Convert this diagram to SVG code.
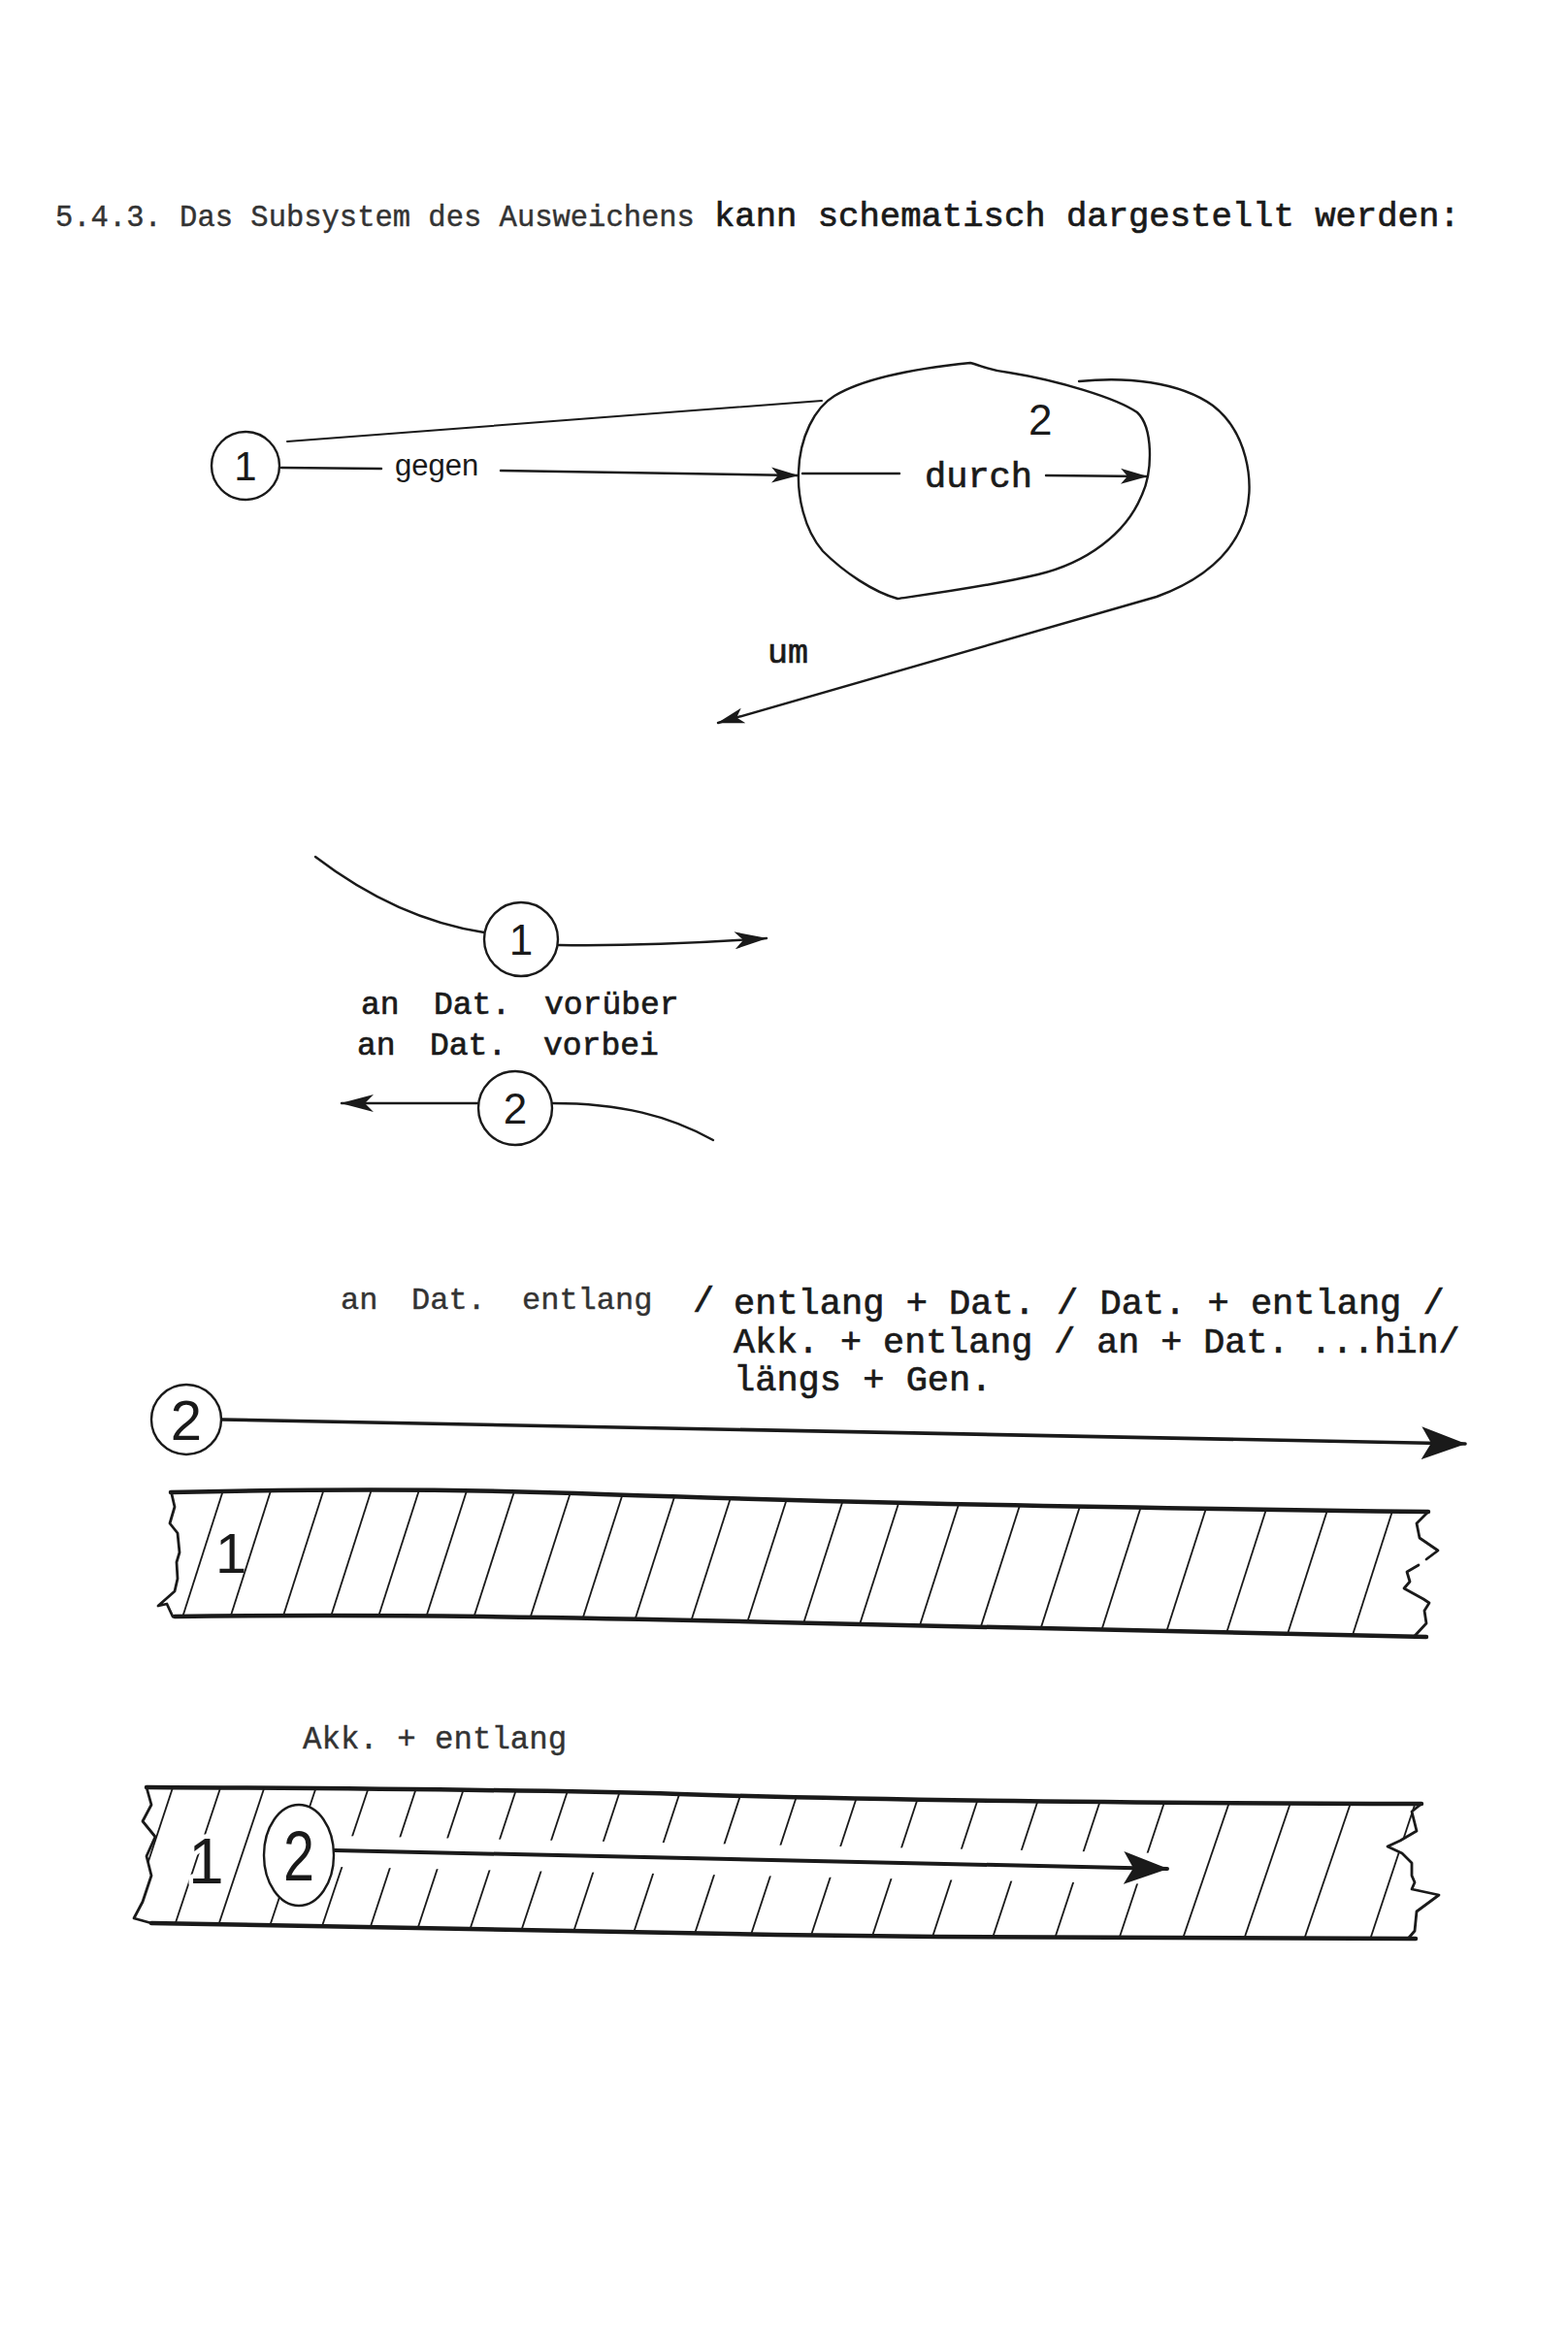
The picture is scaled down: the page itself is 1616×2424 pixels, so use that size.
<svg xmlns="http://www.w3.org/2000/svg" width="1616" height="2424" viewBox="0 0 1616 2424">
<style>
.tw{font-family:"Liberation Mono","Courier New",monospace;fill:#1a1a1a;stroke:#1a1a1a;stroke-width:0.7}
.lt{fill:#333;stroke:#333;stroke-width:0.4}
.hand{font-family:"Liberation Sans",Arial,sans-serif;fill:#1a1a1a}
.ln{fill:none;stroke:#1a1a1a;stroke-width:2.4;stroke-linecap:round;stroke-linejoin:round}
.thin{fill:none;stroke:#1a1a1a;stroke-width:2;stroke-linecap:round}
.thick{fill:none;stroke:#1a1a1a;stroke-width:4.5;stroke-linecap:round;stroke-linejoin:round}
.edge{fill:none;stroke:#1a1a1a;stroke-width:2.8;stroke-linejoin:round;stroke-linecap:round}
.hatch line{stroke:#1a1a1a;stroke-width:1.8}
.node{fill:#fff;stroke:#1a1a1a;stroke-width:2.4}
.halo{paint-order:stroke;stroke:#fff;stroke-width:9;stroke-linejoin:round}
</style>
<defs>
<marker id="ahS" viewBox="0 0 28 18" refX="27" refY="9" markerWidth="28" markerHeight="18" markerUnits="userSpaceOnUse" orient="auto"><path d="M0,1 L28,9 L0,17 L7,9 Z" fill="#1a1a1a"/></marker>
<marker id="ahO" viewBox="0 0 34 18" refX="33" refY="9" markerWidth="34" markerHeight="18" markerUnits="userSpaceOnUse" orient="auto"><path d="M0,0 L34,9 L0,18 L9,9 Z" fill="#1a1a1a"/></marker>
<marker id="ahB" viewBox="0 0 46 34" refX="45" refY="17" markerWidth="46" markerHeight="34" markerUnits="userSpaceOnUse" orient="auto"><path d="M0,0 L46,17 L0,34 L10,17 Z" fill="#1a1a1a"/></marker>
<clipPath id="band1clip"><path d="M176,1538 C350,1534 500,1535 620,1540 C800,1546 1000,1552 1472,1558 L1460,1570 L1463,1585 L1482,1598 L1462,1613 L1450,1620 L1453,1630 L1447,1637 L1467,1648 L1473,1652 L1468,1660 L1470,1673 L1458,1686 C1200,1682 1000,1678 800,1672 C600,1667 400,1663 180,1666 L172,1653 L163,1655 L180,1640 L183,1627 L182,1610 L185,1600 L183,1580 L175,1570 L180,1553 Z"/></clipPath>
<clipPath id="band2clip"><path d="M151,1842 C350,1843 566,1845 700,1849 C850,1854 1100,1858 1465,1859 L1455,1867 L1460,1887 L1443,1897 L1430,1903 L1445,1910 L1455,1920 L1455,1933 L1458,1940 L1455,1947 L1483,1953 L1460,1970 L1458,1990 L1452,1997 C1200,1998 1013,1997 800,1994 C600,1991 400,1986 156,1982 L138,1977 L147,1960 L156,1933 L151,1913 L160,1893 L147,1877 L156,1860 Z"/></clipPath>
</defs>
<rect width="1616" height="2424" fill="#fff"/>

<g id="title">
<text class="tw lt" x="57" y="233" font-size="30.5">5.4.3. Das Subsystem des Ausweichens</text>
<text class="tw" x="736" y="233" font-size="35.6">kann schematisch dargestellt werden:</text>
</g>

<g id="connectors">
<path class="thin" d="M296,455 L847,413"/>
<path class="ln" d="M290,482 L393,483"/>
<path class="ln" d="M516,485 L822,490" marker-end="url(#ahS)"/>
<path class="ln" d="M827,488 L927,488"/>
<path class="ln" d="M1078,490 L1182,491" marker-end="url(#ahS)"/>
<path class="ln" d="M1112,393 C1160,388 1215,393 1250,418 C1285,445 1293,495 1284,530 C1272,572 1238,598 1192,615 L740,745" marker-end="url(#ahS)"/>
<path class="ln" d="M325,883 C380,925 440,952 499,961"/>
<path class="ln" d="M576,974 C650,975 720,972 790,967" marker-end="url(#ahO)"/>
<path class="ln" d="M493,1137 L352,1137" marker-end="url(#ahO)"/>
<path class="ln" d="M569,1137 C640,1137 690,1150 735,1175"/>
<path class="ln" style="stroke-width:3.6" d="M229,1463 L1510,1488" marker-end="url(#ahB)"/>
</g>

<g id="n1-top">
<circle class="node" cx="253" cy="480" r="35"/>
<text class="hand" x="253" y="495" font-size="42" text-anchor="middle">1</text>
</g>
<g id="label-gegen"><text class="hand" x="407" y="490" font-size="31">gegen</text></g>

<g id="n2-top">
<path class="ln" d="M1000,374 C1012,377 1020,382 1040,384 C1090,392 1150,410 1172,425 C1188,440 1189,485 1176,512 C1160,550 1120,580 1070,592 C1020,604 960,612 925,617 C900,610 870,590 848,568 C828,545 822,510 823,487 C824,450 840,420 860,408 C890,390 940,380 1000,374 Z"/>
<text class="hand" x="1060" y="448" font-size="44">2</text>
</g>
<g id="label-durch"><text class="tw" x="953" y="502" font-size="37">durch</text></g>
<g id="label-um"><text class="tw" x="791" y="683" font-size="35">um</text></g>

<g id="n1-mid">
<circle class="node" cx="537" cy="968" r="38"/>
<text class="hand" x="537" y="984" font-size="44" text-anchor="middle">1</text>
</g>
<g id="n2-mid">
<circle class="node" cx="531" cy="1142" r="38"/>
<text class="hand" x="531" y="1158" font-size="44" text-anchor="middle">2</text>
</g>
<g id="label-vorueber">
<text class="tw" font-size="33" y="1045"><tspan x="372">an</tspan><tspan x="447">Dat.</tspan><tspan x="561">vorüber</tspan></text>
<text class="tw" font-size="33" y="1087"><tspan x="368">an</tspan><tspan x="443">Dat.</tspan><tspan x="560">vorbei</tspan></text>
</g>

<g id="label-entlang">
<text class="tw lt" font-size="32" y="1349"><tspan x="351">an</tspan><tspan x="424">Dat.</tspan><tspan x="538">entlang</tspan></text>
<text class="tw" font-size="37" x="714" y="1352">/</text>
<text class="tw" font-size="37" x="756" y="1354">entlang + Dat. / Dat. + entlang /</text>
<text class="tw" font-size="36.7" x="756" y="1394">Akk. + entlang / an + Dat. ...hin/</text>
<text class="tw" font-size="37" x="756" y="1433">längs + Gen.</text>
</g>

<g id="n2-band1">
<circle class="node" cx="192" cy="1463" r="36"/>
<text class="hand" x="192" y="1484" font-size="58" text-anchor="middle">2</text>
</g>

<g id="n1-band1">
<g class="hatch" clip-path="url(#band1clip)">
<line x1="232.5" y1="1528" x2="178.4" y2="1697"/>
<line x1="281.7" y1="1528" x2="227.7" y2="1697"/>
<line x1="336" y1="1528" x2="281.8" y2="1697"/>
<line x1="385.2" y1="1528" x2="331.1" y2="1697"/>
<line x1="434.4" y1="1528" x2="380.1" y2="1697"/>
<line x1="483.7" y1="1528" x2="429.4" y2="1697"/>
<line x1="532.9" y1="1528" x2="478.6" y2="1697"/>
<line x1="591.2" y1="1528" x2="536.9" y2="1697"/>
<line x1="645.5" y1="1528" x2="591.2" y2="1697"/>
<line x1="699.8" y1="1528" x2="645.5" y2="1697"/>
<line x1="758" y1="1528" x2="703.8" y2="1697"/>
<line x1="816.3" y1="1528" x2="762.1" y2="1697"/>
<line x1="874.6" y1="1528" x2="820.4" y2="1697"/>
<line x1="932.9" y1="1528" x2="878.7" y2="1697"/>
<line x1="995.2" y1="1528" x2="941" y2="1697"/>
<line x1="1058.5" y1="1528" x2="1004.3" y2="1697"/>
<line x1="1120.8" y1="1528" x2="1066.6" y2="1697"/>
<line x1="1183.8" y1="1528" x2="1129.9" y2="1697"/>
<line x1="1251.5" y1="1528" x2="1197.2" y2="1697"/>
<line x1="1313.8" y1="1528" x2="1259.5" y2="1697"/>
<line x1="1377.1" y1="1528" x2="1322.8" y2="1697"/>
<line x1="1444.4" y1="1528" x2="1390.2" y2="1697"/>
</g>
<path class="thick" d="M176,1538 C350,1534 500,1535 620,1540 C800,1546 1000,1552 1472,1558"/>
<path class="thick" d="M180,1666 C400,1663 600,1667 800,1672 C1000,1678 1200,1682 1470,1687"/>
<path class="edge" d="M1472,1558 L1460,1570 L1463,1585 L1482,1598 L1470,1607"/>
<path class="edge" d="M1462,1613 L1450,1620 L1453,1630 L1447,1637 L1467,1648 L1473,1652 L1468,1660 L1470,1673 L1458,1686"/>
<path class="edge" d="M177,1540 L180,1553 L175,1570 L183,1580 L185,1600 L182,1610 L183,1627 L180,1640 L163,1655 L172,1653 L178,1666"/>
<text class="hand" x="222" y="1621" font-size="58">1</text>
</g>

<g id="label-akk">
<text class="tw lt" x="312" y="1802" font-size="32.4">Akk. + entlang</text>
</g>

<g id="n1-band2">
<g class="hatch" clip-path="url(#band2clip)">
<line x1="182.1" y1="1830" x2="124.3" y2="2005"/>
<line x1="231.3" y1="1830" x2="173.2" y2="2005"/>
<line x1="276.5" y1="1830" x2="218.2" y2="2005"/>
<line x1="329.8" y1="1830" x2="271.4" y2="2005"/>
<line x1="384" y1="1830" x2="325.3" y2="2005"/>
<line x1="433.2" y1="1830" x2="375.5" y2="2005"/>
<line x1="482.4" y1="1830" x2="424.7" y2="2005"/>
<line x1="536.7" y1="1830" x2="478.9" y2="2005"/>
<line x1="590.2" y1="1830" x2="532.2" y2="2005"/>
<line x1="644.2" y1="1830" x2="586.4" y2="2005"/>
<line x1="706.4" y1="1830" x2="648.7" y2="2005"/>
<line x1="769.7" y1="1830" x2="712" y2="2005"/>
<line x1="828" y1="1830" x2="770.3" y2="2005"/>
<line x1="890.3" y1="1830" x2="832.5" y2="2005"/>
<line x1="953.6" y1="1830" x2="895.8" y2="2005"/>
<line x1="1015.8" y1="1830" x2="958.1" y2="2005"/>
<line x1="1078.1" y1="1830" x2="1020.4" y2="2005"/>
<line x1="1142.4" y1="1830" x2="1084.7" y2="2005"/>
<line x1="1209.1" y1="1830" x2="1151" y2="2005"/>
<line x1="1276.3" y1="1830" x2="1216.6" y2="2005"/>
<line x1="1339.5" y1="1830" x2="1279.9" y2="2005"/>
<line x1="1401.6" y1="1830" x2="1341.9" y2="2005"/>
<line x1="1468" y1="1830" x2="1410" y2="2005"/>
</g>
<path d="M348,1908 L1200,1926" stroke="#fff" stroke-width="32" fill="none"/>
<path class="thick" d="M151,1842 C350,1843 566,1845 700,1849 C850,1854 1100,1858 1465,1859"/>
<path class="thick" d="M156,1982 C400,1986 600,1991 800,1994 C1013,1997 1200,1998 1459,1998"/>
<path class="edge" d="M1465,1859 L1455,1867 L1460,1887 L1443,1897 L1430,1903 L1445,1910 L1455,1920 L1455,1933 L1458,1940 L1455,1947 L1483,1953 L1460,1970 L1458,1990 L1452,1997"/>
<path class="edge" d="M151,1842 L156,1860 L147,1877 L160,1893 L151,1913 L156,1933 L147,1960 L138,1977 L156,1982"/>
<text class="hand halo" x="194" y="1941" font-size="66">1</text>
</g>

<g id="n2-band2">
<ellipse class="node" cx="308" cy="1912" rx="36" ry="52"/>
<text class="hand" x="292" y="1938" font-size="72" textLength="32" lengthAdjust="spacingAndGlyphs">2</text>
</g>
<g id="connector-band2">
<path class="ln" style="stroke-width:4" d="M345,1907 L1203,1926" marker-end="url(#ahB)"/>
</g>
</svg>
